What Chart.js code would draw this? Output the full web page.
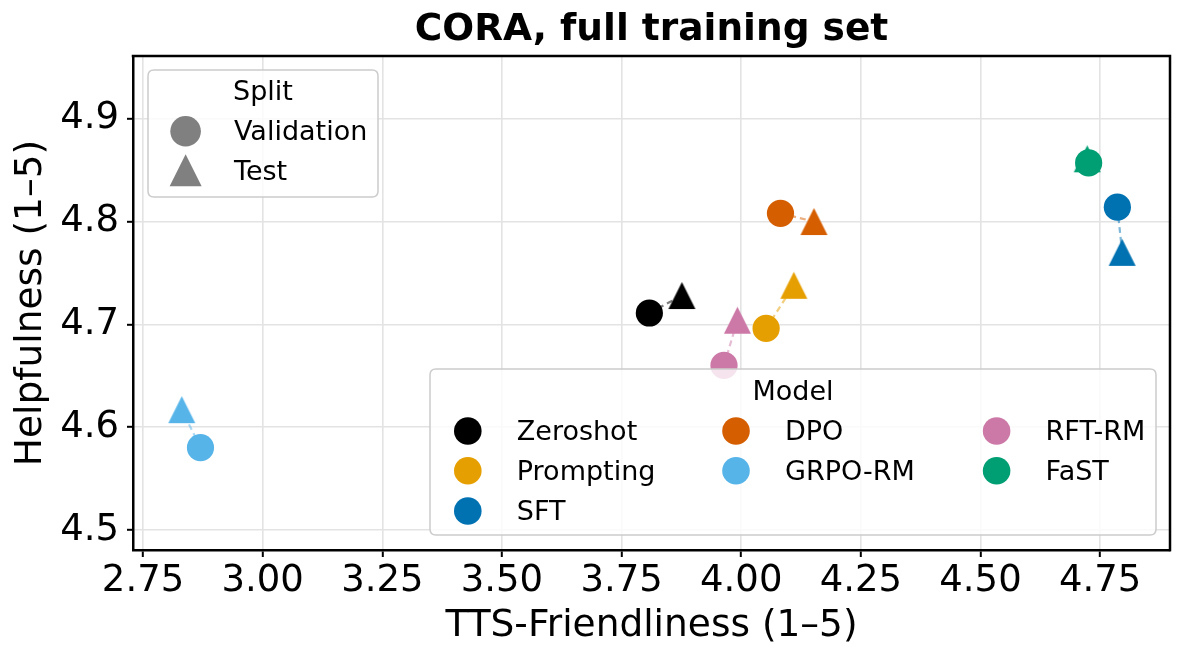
<!DOCTYPE html>
<html><head><meta charset="utf-8">
<script src="https://cdn.jsdelivr.net/npm/chart.js@4.4.1/dist/chart.umd.min.js"></script>
<style>html,body{margin:0;padding:0;background:#fff;} #wrap{width:1185px;height:661px;position:relative;}</style>
</head><body><div id="wrap"><canvas id="c"></canvas></div>
<script>
// ---- data ----
const models = ['Zeroshot', 'Prompting', 'SFT', 'DPO', 'GRPO-RM', 'RFT-RM', 'FaST'];
const modelColors = ['#000000', '#E69F00', '#0072B2', '#D55E00', '#56B4E9', '#CC79A7', '#009E73'];
const valX  = [3.808, 4.052, 4.786, 4.082, 2.870, 3.964, 4.726];
const valY  = [4.711, 4.696, 4.814, 4.808, 4.580, 4.660, 4.857];
const testX = [3.876, 4.110, 4.796, 4.152, 2.831, 3.992, 4.723];
const testY = [4.728, 4.738, 4.770, 4.800, 4.617, 4.704, 4.861];
const splits = ['Validation', 'Test'];
const xTicks = [2.75, 3.00, 3.25, 3.50, 3.75, 4.00, 4.25, 4.50, 4.75];
const xTickLabels = ['2.75', '3.00', '3.25', '3.50', '3.75', '4.00', '4.25', '4.50', '4.75'];
const yTicks = [4.5, 4.6, 4.7, 4.8, 4.9];
const yTickLabels = ['4.5', '4.6', '4.7', '4.8', '4.9'];
const xRange = [2.729, 4.896];
const yRange = [4.4805, 4.961];
const titleText = 'CORA, full training set';
const xTitle = 'TTS-Friendliness (1–5)';
const yTitle = 'Helpfulness (1–5)';
const splitTitle = 'Split';
const modelTitle = 'Model';

// ---- styling helpers ----
const FONT = "'DejaVu Sans', 'Liberation Sans', sans-serif";
Chart.defaults.font.family = FONT;

function withAlpha(hex, a) {
  const n = parseInt(hex.slice(1), 16);
  return `rgba(${(n >> 16) & 255},${(n >> 8) & 255},${n & 255},${a})`;
}
function triangleCanvas(color, size) {
  const c = document.createElement('canvas');
  c.width = size + 2; c.height = size + 2;
  const g = c.getContext('2d');
  g.fillStyle = color;
  g.beginPath();
  g.moveTo(c.width / 2, 1);
  g.lineTo(c.width - 1, c.height - 1);
  g.lineTo(1, c.height - 1);
  g.closePath();
  g.fill();
  return c;
}
const triMarkers = modelColors.map(c => triangleCanvas(c, 27));

const linkSets = models.map((m, i) => ({
  type: 'scatter',
  label: m + ' link',
  data: [{x: valX[i], y: valY[i]}, {x: testX[i], y: testY[i]}],
  showLine: true,
  borderColor: withAlpha(modelColors[i], 0.5),
  borderWidth: 2.2,
  borderDash: [6, 4],
  pointRadius: 0,
  fill: false,
  order: 3
}));
const testSet = {
  type: 'scatter',
  label: splits[1],
  data: models.map((m, i) => ({x: testX[i], y: testY[i]})),
  pointStyle: ctx => triMarkers[ctx.dataIndex],
  pointRadius: 13.5,
  pointBorderWidth: 0,
  backgroundColor: modelColors,
  order: 2
};
const valSet = {
  type: 'scatter',
  label: splits[0],
  data: models.map((m, i) => ({x: valX[i], y: valY[i]})),
  pointStyle: 'circle',
  pointRadius: 13.6,
  pointBorderWidth: 0,
  pointBackgroundColor: modelColors,
  backgroundColor: modelColors,
  order: 1
};

function roundRect(ctx, x, y, w, h, r) {
  ctx.beginPath();
  ctx.moveTo(x + r, y);
  ctx.lineTo(x + w - r, y); ctx.quadraticCurveTo(x + w, y, x + w, y + r);
  ctx.lineTo(x + w, y + h - r); ctx.quadraticCurveTo(x + w, y + h, x + w - r, y + h);
  ctx.lineTo(x + r, y + h); ctx.quadraticCurveTo(x, y + h, x, y + h - r);
  ctx.lineTo(x, y + r); ctx.quadraticCurveTo(x, y, x + r, y);
  ctx.closePath();
}
function legendFrame(ctx, x, y, w, h) {
  roundRect(ctx, x, y, w, h, 6);
  ctx.fillStyle = 'rgba(255,255,255,0.8)';
  ctx.fill();
  ctx.strokeStyle = '#cccccc';
  ctx.lineWidth = 1.5;
  ctx.stroke();
}

const decor = {
  id: 'decor',
  afterDatasetsDraw(chart) {
    const {ctx, chartArea: a} = chart;
    ctx.save();
    ctx.strokeStyle = '#000';
    ctx.lineWidth = 2.5;
    ctx.beginPath();
    ctx.moveTo(a.left - 1.25, a.top); ctx.lineTo(a.right, a.top); ctx.lineTo(a.right, a.bottom + 1.25);
    ctx.stroke();
    ctx.restore();
  },
  afterDraw(chart) {
    const {ctx, chartArea: a} = chart;
    ctx.save();
    ctx.font = '27px ' + FONT;
    ctx.textBaseline = 'alphabetic';
    // Split legend (upper left)
    const sx = a.left + 15, sy = a.top + 14;
    legendFrame(ctx, sx, sy, 230, 127);
    ctx.fillStyle = '#000';
    ctx.textAlign = 'center';
    ctx.fillText(splitTitle, sx + 115, sy + 30);
    ctx.textAlign = 'left';
    ctx.fillStyle = '#808080';
    ctx.beginPath(); ctx.arc(sx + 37.6, sy + 61.3, 15.3, 0, Math.PI * 2); ctx.fill();
    const tcx = sx + 37.6, tcy = sy + 100.3;
    ctx.beginPath(); ctx.moveTo(tcx, tcy - 16); ctx.lineTo(tcx + 16, tcy + 16); ctx.lineTo(tcx - 16, tcy + 16); ctx.closePath(); ctx.fill();
    ctx.fillStyle = '#000';
    ctx.fillText(splits[0], sx + 86, sy + 70);
    ctx.fillText(splits[1], sx + 86, sy + 110);
    // Model legend (lower right)
    const mw = 726, mh = 166;
    const mx = a.right - 14 - mw, my = a.bottom - 15 - mh;
    legendFrame(ctx, mx, my, mw, mh);
    ctx.fillStyle = '#000';
    ctx.textAlign = 'center';
    ctx.fillText(modelTitle, mx + mw / 2, my + 31);
    ctx.textAlign = 'left';
    const colX = [37.8, 306, 566.6];
    const rowY = [62, 101.7, 142];
    const perCol = [3, 2, 2];
    let idx = 0;
    for (let c = 0; c < perCol.length; c++) {
      for (let r = 0; r < perCol[c]; r++, idx++) {
        if (idx >= models.length) break;
        const cx = mx + colX[c], cy = my + rowY[r];
        ctx.fillStyle = modelColors[idx];
        ctx.beginPath(); ctx.arc(cx, cy, 13.8, 0, Math.PI * 2); ctx.fill();
        ctx.fillStyle = '#000';
        ctx.fillText(models[idx], cx + 49, cy + 9);
      }
    }
    ctx.restore();
  }
};

new Chart(document.getElementById('c'), {
  type: 'scatter',
  data: {datasets: [valSet, testSet, ...linkSets]},
  options: {
    responsive: true,
    maintainAspectRatio: false,
    animation: false,
    events: [],
    layout: {padding: {top: 0, right: 15, bottom: 0, left: 0}},
    plugins: {
      legend: {display: false},
      tooltip: {enabled: false},
      title: {
        display: true, text: titleText, fullSize: false, color: '#000',
        font: {size: 37.5, weight: 'bold', family: FONT},
        padding: {top: 7.5, bottom: 3.5}
      }
    },
    scales: {
      x: {
        type: 'linear', min: xRange[0], max: xRange[1],
        afterBuildTicks: s => { s.ticks = xTicks.map(v => ({value: v})); },
        afterFit: s => { s.height = 111; },
        ticks: {
          autoSkip: false, maxRotation: 0, color: '#000', padding: 2,
          font: {size: 37, family: FONT},
          callback: (v, i) => xTickLabels[i]
        },
        grid: {color: '#e3e3e3', lineWidth: 1.6, tickColor: '#000', tickWidth: 2, tickLength: 7},
        border: {display: true, color: '#000', width: 2.5},
        title: {display: true, text: xTitle, color: '#000', font: {size: 37.5, family: FONT}, padding: {top: 0, bottom: 12}}
      },
      y: {
        type: 'linear', min: yRange[0], max: yRange[1],
        afterBuildTicks: s => { s.ticks = yTicks.map(v => ({value: v})); },
        afterFit: s => { s.width = 133; },
        ticks: {
          autoSkip: false, color: '#000', padding: 8,
          font: {size: 37, family: FONT},
          callback: (v, i) => yTickLabels[i]
        },
        grid: {color: '#e3e3e3', lineWidth: 1.6, tickColor: '#000', tickWidth: 2, tickLength: 6},
        border: {display: true, color: '#000', width: 2.5},
        title: {display: true, text: yTitle, color: '#000', font: {size: 37.5, family: FONT}, padding: {top: 9, bottom: 0}}
      }
    }
  },
  plugins: [decor]
});
</script>
</body></html>
